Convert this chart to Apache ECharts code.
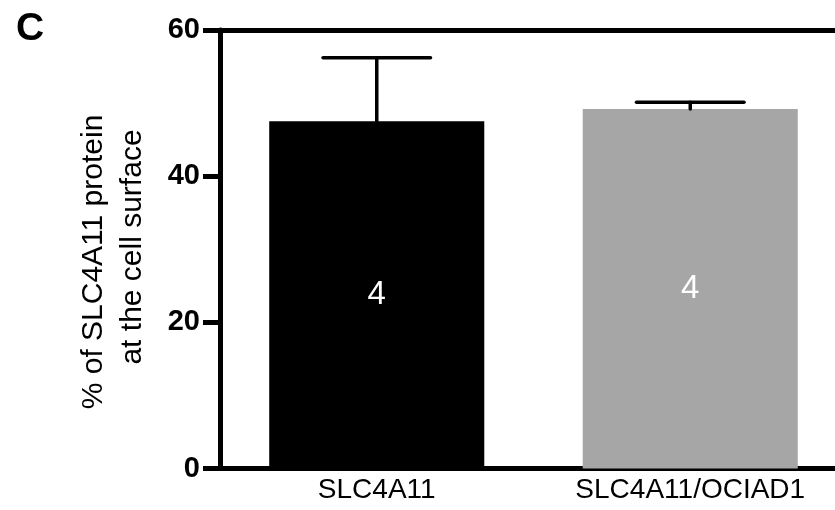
<!DOCTYPE html>
<html>
<head>
<meta charset="utf-8">
<script src="https://cdn.jsdelivr.net/npm/echarts@6/dist/echarts.min.js"></script>
<style>html,body{margin:0;padding:0;background:#fff}#c{width:835px;height:510px}</style>
</head>
<body>
<div id="c"></div>
<script>
var categories = ['SLC4A11', 'SLC4A11/OCIAD1'];
var meanValues = [47.5, 49.2];
var errorValues = [8.7, 0.9];
var nValues = [4, 4];
var barColors = ['#000000', '#a6a6a6'];
var yTicks = [0, 20, 40, 60];

var FONT = "'Liberation Sans', Arial, Helvetica, sans-serif";
var chart = echarts.init(document.getElementById('c'), null, {renderer: 'canvas'});

var barData = meanValues.map(function (v, i) {
  return {value: v, itemStyle: {color: barColors[i]}};
});
var errData = meanValues.map(function (v, i) { return [i, v, v + errorValues[i]]; });

chart.setOption({
  animation: false,
  backgroundColor: '#ffffff',
  title: {
    text: 'C', left: 11, top: 5,
    textStyle: {fontFamily: FONT, fontSize: 39, fontWeight: 'bold', color: '#000'}
  },
  graphic: [
    {type: 'text', x: 94, y: 262, rotation: Math.PI / 2,
     style: {text: '% of SLC4A11 protein', fontFamily: FONT, fontSize: 30, fill: '#000', align: 'center', verticalAlign: 'middle'}},
    {type: 'text', x: 133, y: 247, rotation: Math.PI / 2,
     style: {text: 'at the cell surface', fontFamily: FONT, fontSize: 30, fill: '#000', align: 'center', verticalAlign: 'middle'}}
  ],
  grid: {left: 220, width: 627, top: 30, bottom: 41.5, containLabel: false, outerBoundsMode: 'none'},
  xAxis: [
    {type: 'category', data: categories, position: 'bottom',
     axisLine: {show: true, lineStyle: {color: '#000', width: 5}},
     axisTick: {show: false},
     axisLabel: {fontFamily: FONT, fontSize: 28, color: '#000', margin: 8},
     splitLine: {show: false}},
    {type: 'category', data: categories, position: 'top',
     axisLine: {show: true, lineStyle: {color: '#000', width: 5}},
     axisTick: {show: false}, axisLabel: {show: false}, splitLine: {show: false}}
  ],
  yAxis: {
    type: 'value', min: yTicks[0], max: yTicks[yTicks.length - 1], interval: 20,
    axisLine: {show: true, lineStyle: {color: '#000', width: 5}},
    axisTick: {show: true, length: 17, inside: false, lineStyle: {color: '#000', width: 5}},
    axisLabel: {fontFamily: FONT, fontSize: 29, fontWeight: 'bold', color: '#000', margin: 20},
    splitLine: {show: false}
  },
  series: [
    {type: 'bar', xAxisIndex: 0, data: barData, barWidth: '68.6%',
     label: {show: true, position: 'inside', color: '#fff', fontFamily: FONT, fontSize: 33,
       formatter: function (p) { return String(nValues[p.dataIndex]); }},
     z: 2},
    {type: 'custom', xAxisIndex: 0, data: errData, z: 3,
     renderItem: function (params, api) {
       var base = api.coord([api.value(0), api.value(1)]);
       var top = api.coord([api.value(0), api.value(2)]);
       var half = api.size([1, 0])[0] * 0.686 / 4;
       var st = {stroke: '#000', lineWidth: 3.5, lineCap: 'round'};
       return {type: 'group', children: [
         {type: 'line', shape: {x1: base[0], y1: base[1], x2: top[0], y2: top[1]}, style: st},
         {type: 'line', shape: {x1: top[0] - half, y1: top[1], x2: top[0] + half, y2: top[1]}, style: st}
       ]};
     }}
  ]
});
</script>
</body>
</html>
